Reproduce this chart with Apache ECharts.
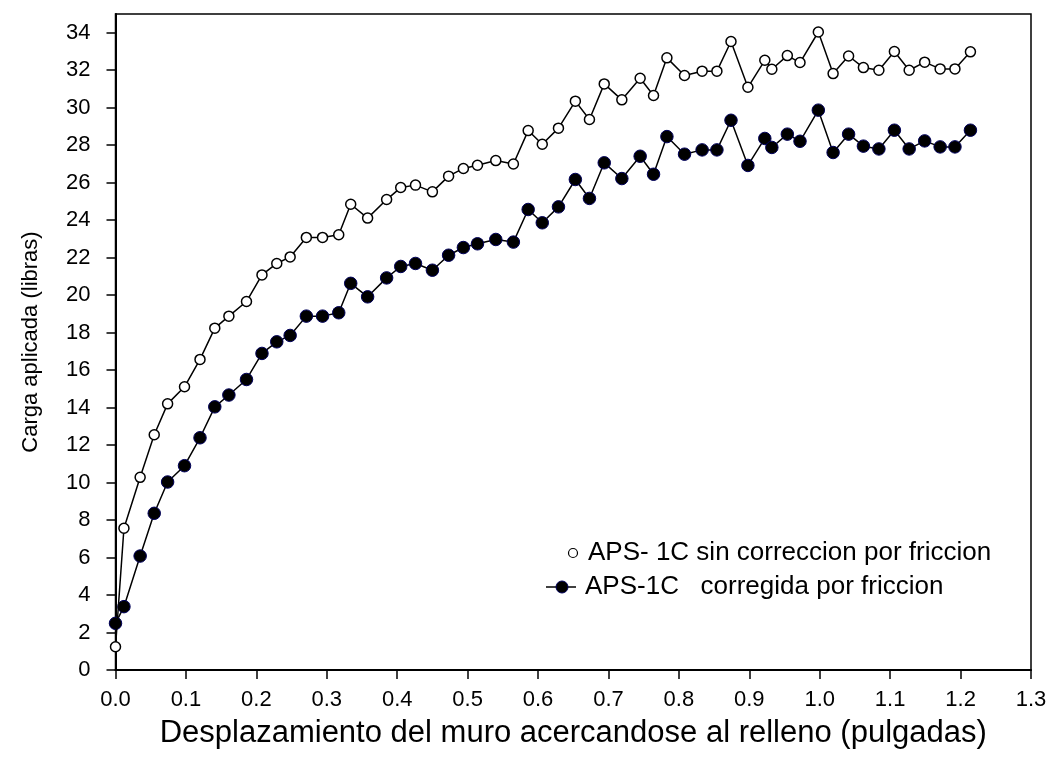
<!DOCTYPE html>
<html>
<head>
<meta charset="utf-8">
<script src="https://cdn.jsdelivr.net/npm/echarts@6/dist/echarts.min.js"></script>
<style>html,body{margin:0;padding:0;background:#fff}#c{width:1051px;height:779px}</style>
</head>
<body>
<div id="c"></div>
<script>
const xDisp = [0.000,0.012,0.035,0.055,0.074,0.098,0.120,0.141,0.161,0.186,0.208,0.229,0.248,0.271,0.294,0.317,0.334,0.358,0.385,0.405,0.426,0.450,0.473,0.494,0.514,0.540,0.565,0.586,0.606,0.629,0.653,0.673,0.694,0.719,0.745,0.764,0.783,0.808,0.833,0.854,0.874,0.898,0.922,0.932,0.954,0.972,0.998,1.019,1.041,1.062,1.084,1.106,1.127,1.149,1.171,1.192,1.214];
const sinCorreccion = [1.24,7.56,10.28,12.55,14.2,15.11,16.57,18.24,18.88,19.66,21.08,21.69,22.04,23.08,23.08,23.22,24.85,24.11,25.10,25.74,25.87,25.51,26.35,26.76,26.93,27.18,27.0,28.78,28.05,28.91,30.35,29.37,31.27,30.42,31.57,30.65,32.66,31.72,31.95,31.95,33.53,31.09,32.53,32.05,32.78,32.41,34.04,31.82,32.76,32.14,32.0,33.0,32.0,32.43,32.07,32.07,32.98];
const corregida = [2.49,3.38,6.08,8.36,10.03,10.90,12.39,14.04,14.67,15.50,16.89,17.51,17.85,18.88,18.88,19.06,20.63,19.91,20.92,21.53,21.69,21.33,22.13,22.54,22.74,22.97,22.83,24.57,23.86,24.71,26.17,25.16,27.06,26.22,27.41,26.45,28.46,27.52,27.75,27.75,29.33,26.92,28.36,27.88,28.59,28.21,29.87,27.61,28.59,27.95,27.80,28.8,27.80,28.23,27.91,27.91,28.8];
const yTicks = [0,2,4,6,8,10,12,14,16,18,20,22,24,26,28,30,32,34];
const xTicks = [0.0,0.1,0.2,0.3,0.4,0.5,0.6,0.7,0.8,0.9,1.0,1.1,1.2,1.3];
const seriesNames = ['APS- 1C sin correccion por friccion','APS-1C   corregida por friccion'];
const xTitle = 'Desplazamiento del muro acercandose al relleno (pulgadas)';
const yTitle = 'Carga aplicada (libras)';

const FONT = '"Liberation Sans", Arial, sans-serif';
const chart = echarts.init(document.getElementById('c'), null, {renderer:'canvas'});
const pair = (ys) => xDisp.map((x,i)=>[x, ys[i]]);
chart.setOption({
  animation:false,
  backgroundColor:'#fff',
  grid:{left:115.5, right:20, top:14, bottom:109, show:true, borderColor:'#000', borderWidth:1.5, backgroundColor:'transparent'},
  xAxis:{
    type:'value', min:0, max:1.3, interval:0.1,
    name:xTitle, nameLocation:'middle', nameGap:48,
    nameTextStyle:{fontFamily:FONT, fontSize:31, color:'#000'},
    axisLine:{show:true, onZero:false, lineStyle:{color:'#000', width:2}},
    axisTick:{show:true, inside:false, length:9, lineStyle:{color:'#000', width:1.5}, customValues:xTicks},
    axisLabel:{fontFamily:FONT, fontSize:22, color:'#000', margin:19, customValues:xTicks, formatter:(v)=>v.toFixed(1)},
    splitLine:{show:false}
  },
  yAxis:{
    type:'value', min:0, max:35,
    name:yTitle, nameLocation:'middle', nameGap:74, nameRotate:90,
    nameTextStyle:{fontFamily:FONT, fontSize:22, color:'#000'},
    axisLine:{show:true, onZero:false, lineStyle:{color:'#000', width:2}},
    axisTick:{show:true, inside:false, length:9, lineStyle:{color:'#000', width:1.5}, customValues:yTicks},
    axisLabel:{fontFamily:FONT, fontSize:22, color:'#000', margin:25, customValues:yTicks},
    splitLine:{show:false}
  },
  series:[
    {name:seriesNames[0], type:'line', data:pair(sinCorreccion), symbol:'circle', symbolSize:10,
     lineStyle:{color:'#000', width:1.5}, itemStyle:{color:'#fff', borderColor:'#000', borderWidth:1.5}, z:3},
    {name:seriesNames[1], type:'line', data:pair(corregida), symbol:'circle', symbolSize:12.5,
     lineStyle:{color:'#000', width:1.5}, itemStyle:{color:'#000', borderColor:'#00005a', borderWidth:1}, z:2}
  ],
  graphic:[
    {type:'circle', shape:{cx:573, cy:553, r:4.5}, style:{fill:'#fff', stroke:'#000', lineWidth:1.2}},
    {type:'text', x:588, y:553, style:{text:seriesNames[0], font:'26px '+FONT, fill:'#000', textVerticalAlign:'middle', verticalAlign:'middle'}},
    {type:'line', shape:{x1:546, y1:587, x2:576, y2:587}, style:{stroke:'#000', lineWidth:1.5}},
    {type:'circle', shape:{cx:562, cy:587, r:6}, style:{fill:'#000', stroke:'#00005a', lineWidth:1}},
    {type:'text', x:585, y:587, style:{text:seriesNames[1], font:'26px '+FONT, fill:'#000', textVerticalAlign:'middle', verticalAlign:'middle'}}
  ]
});
</script>
</body>
</html>
